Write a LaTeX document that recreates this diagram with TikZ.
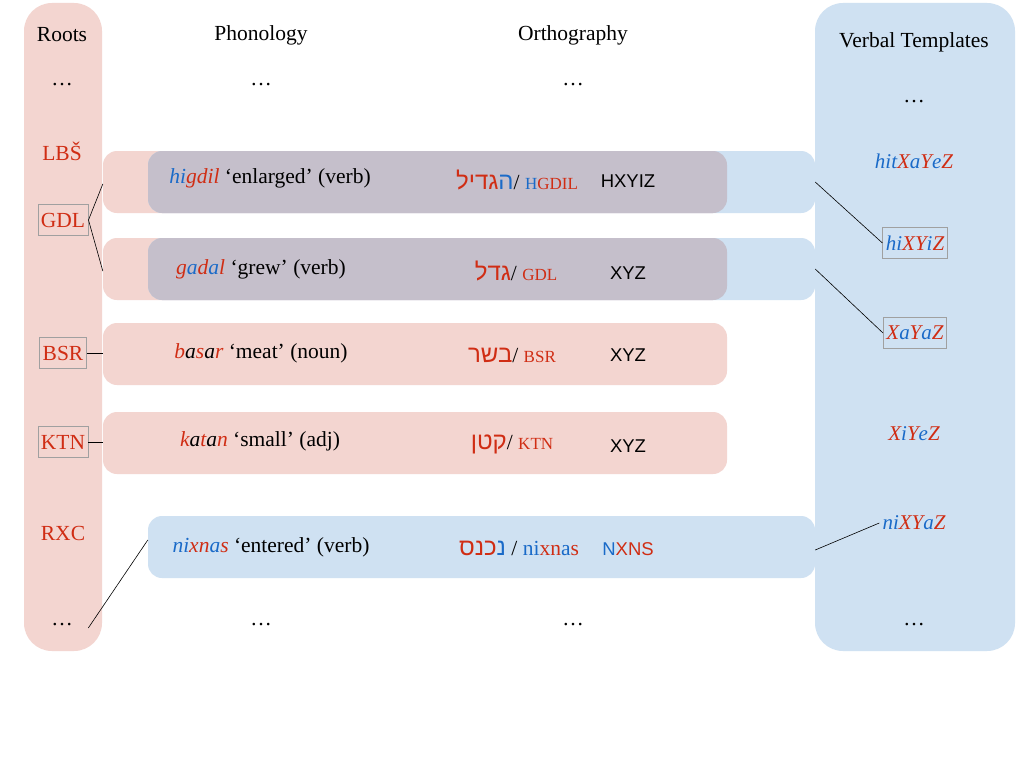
\documentclass[tikz,border=0pt]{standalone}
\usepackage{fontspec}
\usepackage{xcolor}
\setmainfont{Liberation Serif}
\newfontfamily\hebfont[Script=Hebrew]{Liberation Sans}
\newfontfamily\codefont{Liberation Sans}
\TeXXeTstate=1
\definecolor{rootred}{RGB}{208,45,20}
\definecolor{tmplblue}{RGB}{26,106,200}
\definecolor{rootpink}{RGB}{243,213,208}
\definecolor{tmplsky}{RGB}{207,225,242}
\definecolor{bothgray}{RGB}{197,191,203}
\definecolor{boxgray}{RGB}{160,160,160}
\newcommand{\rc}[1]{\textcolor{rootred}{#1}}
\newcommand{\tc}[1]{\textcolor{tmplblue}{#1}}
% Hebrew pieces, set in visual order, each one right to left
\newcommand{\hebpart}[2]{\textcolor{#1}{\hebfont\fontsize{24}{26}\selectfont\beginR#2\endR}}
\newcommand{\smallcode}[1]{{\fontsize{17}{20}\selectfont#1}}
\tikzset{
  rootcol/.style={fill=rootpink, rounded corners=28pt, minimum width=78pt, minimum height=648pt, inner sep=0pt},
  tmplcol/.style={fill=tmplsky, rounded corners=28pt, minimum width=200pt, minimum height=648pt, inner sep=0pt},
  pinkrow/.style={fill=rootpink, rounded corners=14pt, minimum width=624pt, minimum height=62pt, inner sep=0pt},
  bluerow/.style={fill=tmplsky, rounded corners=14pt, minimum width=667pt, minimum height=62pt, inner sep=0pt},
  bothrow/.style={fill=bothgray, rounded corners=14pt, minimum width=579pt, minimum height=62pt, inner sep=0pt},
  title/.style={font=\fontsize{21.5}{24}\selectfont},
  word/.style={font=\fontsize{21.5}{24}\selectfont, inner sep=2pt},
  tmpl/.style={font=\fontsize{21}{24}\selectfont\itshape, inner sep=3pt},
  code/.style={font=\codefont\fontsize{18.5}{22}\selectfont},
  framed/.style={draw=boxgray, line width=0.8pt, inner xsep=3pt, minimum height=31pt},
  link/.style={draw=black, line width=0.6pt}
}
\begin{document}
\begin{tikzpicture}[x=1pt,y=-1pt]
\useasboundingbox[fill=white] (0,0) rectangle (1024,768);

% columns
\node[rootcol] (roots) at (63,327) {};
\node[tmplcol] (tmpls) at (915,327) {};

% rows
\node[pinkrow] (p1) at (415,182) {};
\node[bluerow] (b1) at (481.5,182) {};
\node[bothrow] (g1) at (437.5,182) {};
\node[pinkrow] (p2) at (415,269) {};
\node[bluerow] (b2) at (481.5,269) {};
\node[bothrow] (g2) at (437.5,269) {};
\node[pinkrow] (p3) at (415,354) {};
\node[pinkrow] (p4) at (415,443) {};
\node[bluerow] (b5) at (481.5,547) {};

% headings
\node[title] (troots) at (62,35) {Roots};
\node[title] (tphon) at (261,35) {Phonology};
\node[title] (torth) at (573,35) {Orthography};
\node[title] (ttmpl) at (914,42) {Verbal Templates};
\node[title] (dots1) at (62,85) {\ldots};
\node[title] (dots2) at (261,85) {\ldots};
\node[title] (dots3) at (573,85) {\ldots};
\node[title] (dots4) at (914,102) {\ldots};

% roots
\node[word] (lbs) at (62,151) {\rc{LBŠ}};
\node[word, framed] (gdl) at (63,220) {\rc{GDL}};
\node[word, framed] (bsr) at (63,353) {\rc{BSR}};
\node[word, framed] (ktn) at (63,442) {\rc{KTN}};
\node[word] (rxc) at (63,533) {\rc{RXC}};
\node[title] (rdots) at (62,625) {\ldots};

% phonology
\node[word] (ph1) at (270,178) {\textit{\tc{hi}\rc{gdil}} ‘enlarged’ (verb)};
\node[word] (ph2) at (261,269) {\textit{\rc{g}\tc{a}\rc{d}\tc{a}\rc{l}} ‘grew’ (verb)};
\node[word] (ph3) at (261,353) {\textit{\rc{b}a\rc{s}a\rc{r}} ‘meat' (noun)};
\node[word] (ph4) at (260,441) {\textit{\rc{k}a\rc{t}a\rc{n}} ‘small' (adj)};
\node[word] (ph5) at (271,547) {\textit{\tc{ni}\rc{xn}\tc{a}\rc{s}} ‘entered’ (verb)};

% orthography
\node[word] (or1) at (517,180) {\hebpart{rootred}{גדיל}\hebpart{tmplblue}{ה}/ \smallcode{\tc{H}\rc{GDIL}}};
\node[word] (or2) at (516,271) {\hebpart{rootred}{גדל}/ \smallcode{\rc{GDL}}};
\node[word] (or3) at (512,355) {\hebpart{rootred}{בשר}/ \smallcode{\rc{BSR}}};
\node[word] (or4) at (512,444) {\hebpart{rootred}{קטן}/ \smallcode{\rc{KTN}}};
\node[word] (or5) at (519,548) {\hebpart{rootred}{כנס}\hebpart{tmplblue}{נ}\ / \tc{ni}\rc{xn}\tc{a}\rc{s}};
\node[code] (cd1) at (628,181) {HXYIZ};
\node[code] (cd2) at (628,273) {XYZ};
\node[code] (cd3) at (628,355) {XYZ};
\node[code] (cd4) at (628,446) {XYZ};
\node[code] (cd5) at (628,549) {\tc{N}\rc{XNS}};
\node[title] (dots5) at (261,625) {\ldots};
\node[title] (dots6) at (573,625) {\ldots};

% templates
\node[tmpl] (hitxayez) at (914,161) {\tc{hit}\rc{X}\tc{a}\rc{Y}\tc{e}\rc{Z}};
\node[tmpl, framed] (hixyiz) at (915,243) {\tc{hi}\rc{XY}\tc{i}\rc{Z}};
\node[tmpl, framed] (xayaz) at (915,333) {\rc{X}\tc{a}\rc{Y}\tc{a}\rc{Z}};
\node[tmpl] (xiyez) at (914,434) {\rc{X}\tc{i}\rc{Y}\tc{e}\rc{Z}};
\node[tmpl] (nixyaz) at (914,523) {\tc{ni}\rc{XY}\tc{a}\rc{Z}};
\node[title] (dots7) at (914,625) {\ldots};

% links
\draw[link] (gdl.east) -- ([yshift=-2pt]p1.west);
\draw[link] (gdl.east) -- ([yshift=-2pt]p2.west);
\draw[link] (bsr.east) -- (p3.west |- bsr.east);
\draw[link] (ktn.east) -- (p4.west |- ktn.east);
\draw[link] ([xshift=12pt,yshift=-3pt]rdots.east) -- ([yshift=7pt]b5.west);
\draw[link] (b1.east) -- (hixyiz.west);
\draw[link] (b2.east) -- (xayaz.west);
\draw[link] ([yshift=-3pt]b5.east) -- (nixyaz.west);
\end{tikzpicture}
\end{document}
